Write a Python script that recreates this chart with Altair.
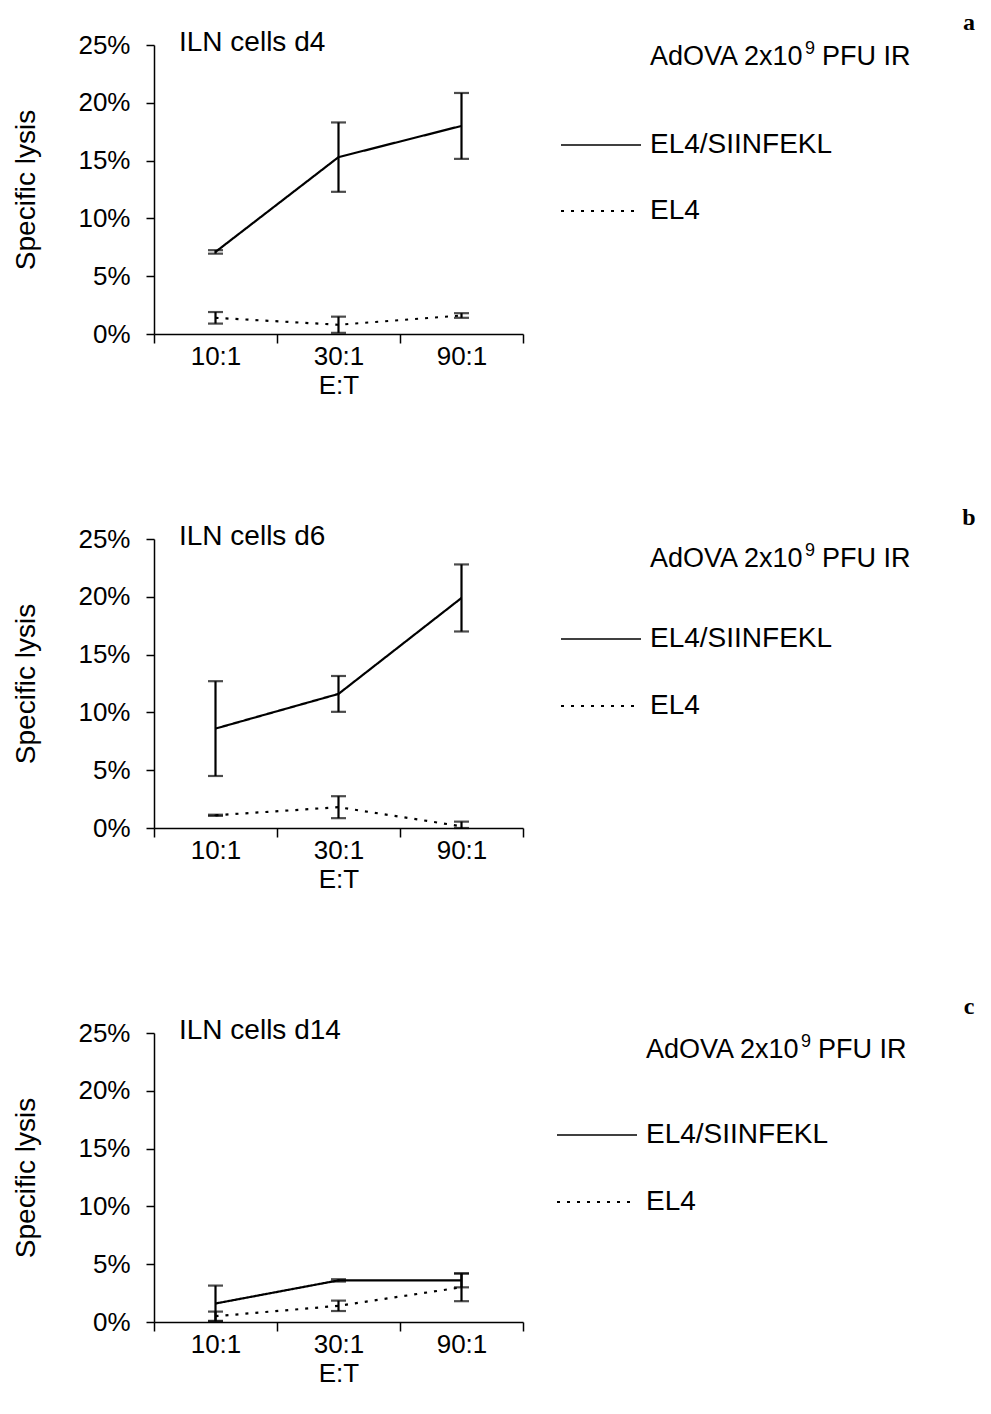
import altair as alt
import pandas as pd

# ---------------- data ----------------
ratios = ["10:1", "30:1", "90:1"]
series_names = ["EL4/SIINFEKL", "EL4"]
panel_titles = ["ILN cells d4", "ILN cells d6", "ILN cells d14"]
panel_letters = ["a", "b", "c"]
heading_parts = ["AdOVA 2x10", "9", "PFU IR"]
y_tick_values = [0, 0.05, 0.10, 0.15, 0.20, 0.25]

# panel a (d4), % specific lysis and error (+/-)
siin_a = [7.1, 15.3, 18.0]
siin_a_err = [0.15, 3.0, 2.85]
el4_a = [1.4, 0.8, 1.6]
el4_a_err = [0.5, 0.7, 0.2]

# panel b (d6)
siin_b = [8.6, 11.6, 19.9]
siin_b_err = [4.1, 1.55, 2.9]
el4_b = [1.1, 1.8, 0.15]
el4_b_err = [0.05, 0.95, 0.4]

# panel c (d14)
siin_c = [1.6, 3.6, 3.6]
siin_c_err = [1.55, 0.1, 0.6]
el4_c = [0.5, 1.4, 3.0]
el4_c_err = [0.4, 0.45, 1.2]

# ---------------- style ----------------
FONT = "Liberation Sans"
W, H = 369, 289
LW = 2.2
DASHES = [[1, 0], [3, 7]]


def build_table(siin, siin_err, el4, el4_err):
    rows = []
    for name, means, errs in ((series_names[0], siin, siin_err), (series_names[1], el4, el4_err)):
        for r, v, d in zip(ratios, means, errs):
            rows.append({"ratio": r, "series": name, "value": v / 100,
                         "lo": (v - d) / 100, "hi": (v + d) / 100})
    return pd.DataFrame(rows)


def text_layer(txt, x, y, size=26, align="left", font=FONT, weight="normal", baseline="middle"):
    return alt.Chart(pd.DataFrame({"t": [txt]})).mark_text(
        font=font, fontSize=size, fontWeight=weight, align=align, baseline=baseline, color="black"
    ).encode(x=alt.value(x), y=alt.value(y), text="t:N")


def panel(df, title, letter, offs):
    x = alt.X("ratio:N", sort=ratios,
              scale=alt.Scale(domain=ratios, paddingInner=0, paddingOuter=0),
              axis=alt.Axis(title="E:T", labelAngle=0, tickBand="extent", tickSize=9,
                            labelPadding=0, titlePadding=3, grid=False,
                            labelFontSize=26, titleFontSize=26, labelFont=FONT, titleFont=FONT,
                            titleFontWeight="normal", domainColor="black", tickColor="black",
                            labelColor="black", titleColor="black", domainWidth=1.5, tickWidth=1.5))
    y = alt.Y("value:Q",
              scale=alt.Scale(domain=[0, 0.25], nice=False, clamp=True),
              axis=alt.Axis(title="Specific lysis", format=".0%", values=y_tick_values,
                            tickSize=8, labelPadding=16, grid=False,
                            labelFontSize=26, titleFontSize=28, labelFont=FONT, titleFont=FONT,
                            titleFontWeight="normal", domainColor="black", tickColor="black",
                            labelColor="black", titleColor="black", domainWidth=1.5, tickWidth=1.5,
                            titleX=-128, titleY=H / 2, titleAngle=270, titleAlign="center",
                            titleBaseline="middle"))
    dash = alt.StrokeDash("series:N", scale=alt.Scale(domain=series_names, range=DASHES), legend=None)

    base = alt.Chart(df)
    line = base.mark_line(color="black", strokeWidth=LW).encode(x=x, y=y, strokeDash=dash)
    bars = base.mark_rule(color="black", strokeWidth=LW).encode(x=x, y=alt.Y("lo:Q"), y2="hi:Q")
    cap_lo = base.mark_tick(color="black", size=15, thickness=LW).encode(x=x, y=alt.Y("lo:Q"))
    cap_hi = base.mark_tick(color="black", size=15, thickness=LW).encode(x=x, y=alt.Y("hi:Q"))

    head_y, solid_y, dot_y, letter_y, dx = offs
    lx0, lx1 = 407 + dx, 487 + dx
    tx = 496 + dx
    leg_solid = alt.Chart(pd.DataFrame({"s": [series_names[0]]})).mark_rule(
        color="black", strokeWidth=1.6).encode(
        x=alt.value(lx0), x2=alt.value(lx1), y=alt.value(solid_y))
    leg_dot = alt.Chart(pd.DataFrame({"s": [series_names[1]]})).mark_rule(
        color="black", strokeWidth=2, strokeDash=DASHES[1]).encode(
        x=alt.value(lx0), x2=alt.value(lx1 - 5), y=alt.value(dot_y))

    layers = [
        line, bars, cap_lo, cap_hi,
        leg_solid, leg_dot,
        text_layer(series_names[0], tx, solid_y, size=28),
        text_layer(series_names[1], tx, dot_y, size=28),
        text_layer(heading_parts[0], tx, head_y, size=27),
        text_layer(heading_parts[1], tx + 155, head_y - 8, size=18),
        text_layer(heading_parts[2], tx + 172, head_y, size=27),
        text_layer(title, 25, -2, size=28),
        text_layer(letter, 815, letter_y, size=24, align="center", font="Liberation Serif", weight="bold"),
    ]
    return alt.layer(*layers).properties(width=W, height=H)


tables = [
    build_table(siin_a, siin_a_err, el4_a, el4_a_err),
    build_table(siin_b, siin_b_err, el4_b, el4_b_err),
    build_table(siin_c, siin_c_err, el4_c, el4_c_err),
]
offsets = [
    (12, 100, 166, -22, 0),
    (20, 100, 167, -21, 0),
    (17, 102, 169, -26, -4),
]

panels = [panel(t, ti, le, of) for t, ti, le, of in zip(tables, panel_titles, panel_letters, offsets)]

chart = alt.vconcat(*panels, spacing=205, bounds="flush").properties(
    padding={"left": 4, "top": 3, "right": 0, "bottom": 5}
).configure(font=FONT).configure_view(stroke="transparent", strokeWidth=0)

chart.save("out.html", embed_options={"renderer": "svg", "actions": False})
